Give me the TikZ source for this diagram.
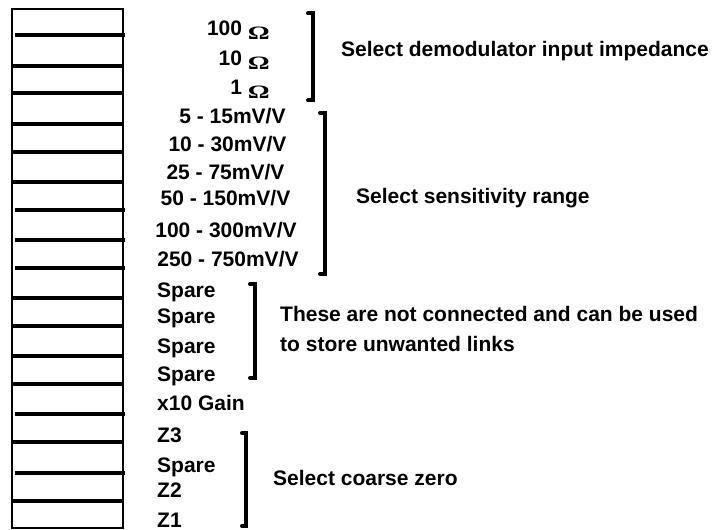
\documentclass[tikz,border=0pt]{standalone}
\usepackage{fontspec}
\setmainfont{Liberation Sans}
\newfontfamily\omegafont{Liberation Serif}
\newcommand{\ohm}{\raisebox{-3.5bp}{\omegafont\bfseries\scalebox{1.3}[0.9]{Ω}}}
\begin{document}
\begin{tikzpicture}[x=1bp,y=-1bp,
  lbl/.style={inner sep=0pt,font=\fontsize{21bp}{25bp}\selectfont\bfseries},
  rowline/.style={line width=3.2bp},
  brk/.style={line width=4bp,line cap=round,line join=miter}]
\useasboundingbox (0,0) rectangle (715,530);
% link block
\draw[line width=2.2bp] (12,9) rectangle (123,528);
\foreach \y in {66,93,124,152,182,298,326,356,384,442,501}
  \draw[rowline] (12,\y) -- (123,\y);
\foreach \y in {35,210,240,268,414,473}
  \draw[rowline] (15,\y) -- (125,\y);
% impedance
\node[lbl,anchor=base east] (i100) at (270,36) {100 \ohm};
\node[lbl,anchor=base east] (i10) at (270,66) {10 \ohm};
\node[lbl,anchor=base east] (i1) at (270,95) {1 \ohm};
% sensitivity
\node[lbl,anchor=base] (s1) at (232.5,124) {5 - 15mV/V};
\node[lbl,anchor=base] (s2) at (227.5,152) {10 - 30mV/V};
\node[lbl,anchor=base] (s3) at (225.5,180) {25 - 75mV/V};
\node[lbl,anchor=base] (s4) at (225.5,206) {50 - 150mV/V};
\node[lbl,anchor=base] (s5) at (226,238) {100 - 300mV/V};
\node[lbl,anchor=base] (s6) at (228,267) {250 - 750mV/V};
% spares
\node[lbl,anchor=base west] (p1) at (157,297) {Spare};
\node[lbl,anchor=base west] (p2) at (157,323.5) {Spare};
\node[lbl,anchor=base west] (p3) at (157,353) {Spare};
\node[lbl,anchor=base west] (p4) at (157,381) {Spare};
\node[lbl,anchor=base west] (g) at (157,410) {x10 Gain};
\node[lbl,anchor=base west] (z3) at (157,442) {Z3};
\node[lbl,anchor=base west] (p5) at (157,472) {Spare};
\node[lbl,anchor=base west] (z2) at (157,497) {Z2};
\node[lbl,anchor=base west] (z1) at (157,527) {Z1};
% brackets
\draw[brk] (308,13.5) -- (312.5,13.5) -- (312.5,100.5) -- (308,100.5);
\draw[brk] (320,113) -- (324.5,113) -- (324.5,274) -- (320,274);
\draw[brk] (250,284) -- (255,284) -- (255,378) -- (250,378);
\draw[brk] (242,433) -- (246,433) -- (246,526) -- (242,526);
% descriptions
\node[lbl,anchor=base west] (d1) at (341,57) {Select demodulator input impedance};
\node[lbl,anchor=base west] (d2) at (356,204) {Select sensitivity range};
\node[lbl,anchor=base west] (d3) at (280,321) {These are not connected and can be used};
\node[lbl,anchor=base west] (d4) at (280,351) {to store unwanted links};
\node[lbl,anchor=base west] (d5) at (273,485) {Select coarse zero};
\end{tikzpicture}
\end{document}
